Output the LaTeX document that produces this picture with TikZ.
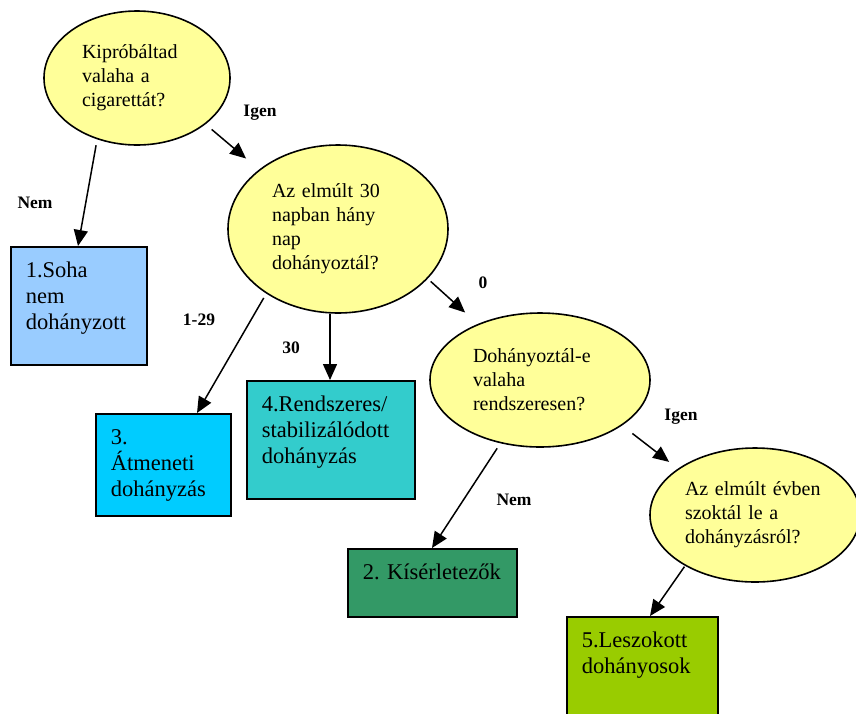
\documentclass[tikz,border=0pt]{standalone}
\usepackage{fontspec}
\setmainfont{Liberation Serif}
\usetikzlibrary{shapes.geometric,arrows.meta}
\frenchspacing

\definecolor{qyellow}{HTML}{FFFF99}
\definecolor{cnever}{HTML}{99CCFF}
\definecolor{ctransient}{HTML}{00CCFF}
\definecolor{cstable}{HTML}{33CCCC}
\definecolor{cexperiment}{HTML}{339966}
\definecolor{cquit}{HTML}{99CC00}

\tikzset{
    question/.style={ellipse, draw, fill=qyellow, line width=1.6pt, inner sep=0pt,
        align=left, font=\fontsize{20}{24}\selectfont},
    category/.style={rectangle, draw, line width=1.6pt, anchor=north west,
        inner xsep=15pt, inner ysep=0pt, align=left, text height=31pt,
        font=\fontsize{22.5}{26}\selectfont},
    answer/.style={font=\fontsize{17.5}{20}\selectfont\bfseries},
    arr/.style={-{Triangle[length=16pt,width=14pt]}, line width=1.5pt},
}

\begin{document}
\begin{tikzpicture}[x=1pt, y=-1pt]
        \clip (0,0) rectangle (856,713);

        % questions
        \node[question, minimum width=186, minimum height=134, text width=110]
            (tried) at (137,78) {Kipróbáltad\\valaha a\\cigarettát?};
        \node[question, minimum width=220, minimum height=168, text width=132]
            (month) at (338,229) {Az elmúlt 30\\napban hány\\nap\\dohányoztál?};
        \node[question, minimum width=220, minimum height=134, text width=134]
            (regular) at (540,380) {Dohányoztál-e\\valaha\\rendszeresen?};
        \node[question, minimum width=210, minimum height=134, text width=140]
            (lastyear) at (755,515) {Az elmúlt évben\\szoktál le a\\dohányzásról?};

        % categories
        \node[category, fill=cnever, text width=106, text depth=87]
            (never) at (10,246) {1.Soha\\nem\\dohányzott};
        \node[category, fill=ctransient, text width=105, text depth=71]
            (transient) at (95,413) {3.\\Átmeneti\\dohányzás};
        \node[category, fill=cstable, text width=138, text depth=87]
            (stable) at (246,380) {4.Rendszeres/\\stabilizálódott\\dohányzás};
        \node[category, fill=cexperiment, text width=139, text depth=37]
            (experimenter) at (347,548) {2. Kísérletezők};
        \node[category, fill=cquit, text width=121, text depth=79]
            (quit) at (566,616) {5.Leszokott\\dohányosok};

        % arrows
        \draw[arr, shorten <=6pt] (tried.237.5) -- ([xshift=68pt]never.north west);
        \draw[arr, shorten <=8pt, shorten >=17pt] (tried.326.3) -- (month.143.4);
        \draw[arr, shorten <=5pt] (month.222.2) -- ([xshift=102pt]transient.north west);
        \draw[arr] ([xshift=-8pt]month.south) -- ([xshift=-8pt]month.south |- stable.north);
        \draw[arr, shorten <=4pt, shorten >=17pt] (month.331.3) -- (regular.138.2);
        \draw[arr, shorten <=6pt] (regular.238.3) -- ([xshift=85pt]experimenter.north west);
        \draw[arr, shorten <=13pt, shorten >=11pt] (regular.331.3) -- (lastyear.149.6);
        \draw[arr, shorten <=1pt] (lastyear.216.1) -- ([xshift=84pt]quit.north west);

        % answers
        \node[answer] (a-nem1) at (35,203) {Nem};
        \node[answer] (a-igen1) at (260,113) {Igen};
        \node[answer] (a-129) at (199,320) {1-29};
        \node[answer] (a-30) at (291,348) {30};
        \node[answer] (a-0) at (483,283) {0};
        \node[answer] (a-nem2) at (514,500) {Nem};
        \node[answer] (a-igen2) at (681,417) {Igen};
\end{tikzpicture}
\end{document}
